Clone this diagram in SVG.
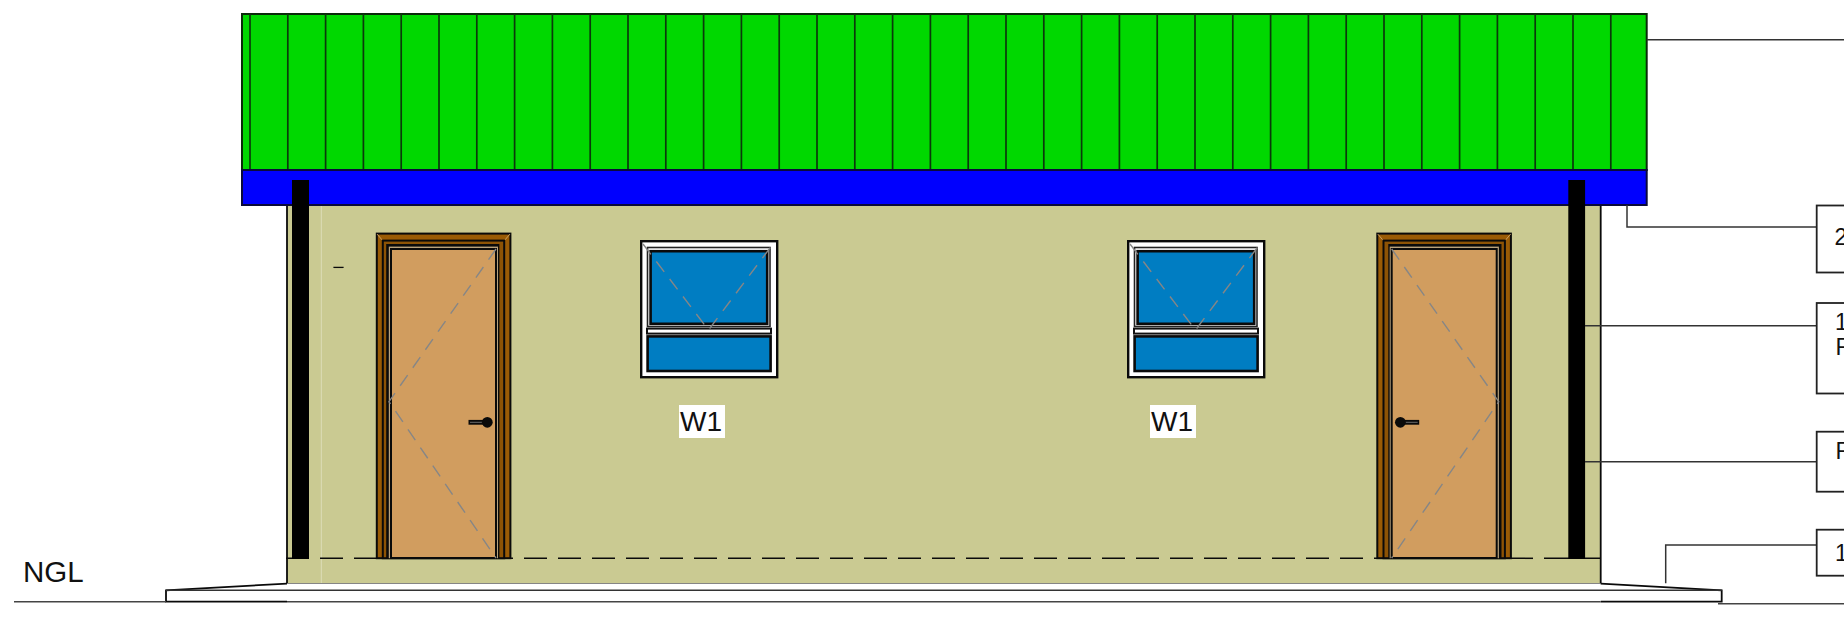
<svg xmlns="http://www.w3.org/2000/svg" width="1844" height="630" viewBox="0 0 1844 630">
<style>
text{font-family:"Liberation Sans",Arial,sans-serif;fill:#111}
.seam{stroke:#0b3a0b;stroke-width:1.7;fill:none}
.k{stroke:#0a0a0a;fill:none}
.lead{stroke:#333;stroke-width:1.5;fill:none}
.box{fill:#fff;stroke:#222;stroke-width:1.8}
.lbl{font-size:23px}
.glass{fill:#007dc2;stroke:#0a0a0a;stroke-width:2.6}
.diag{stroke:#868686;stroke-width:1.4;stroke-dasharray:13 9;fill:none}
.frame{fill:#9a5b05;stroke:#0a0a0a;stroke-width:2}
</style>
<defs>
<g id="door">
<rect class="frame" x="376.8" y="233.6" width="133.6" height="324.6"/>
<path d="M377 234L383 241M510 234L504 241" stroke="#d8b27a" stroke-width="0.8"/>
<rect x="382.8" y="240.6" width="121.4" height="317.6" fill="#8d5305" stroke="#0a0a0a" stroke-width="2"/>
<rect x="386.2" y="244" width="113.2" height="314.2" fill="#0a0a0a"/>
<rect x="388.8" y="246.6" width="109.2" height="311.6" fill="#b9a27c"/>
<rect x="391" y="249" width="105" height="309" fill="#d19d5f" stroke="#0a0a0a" stroke-width="2"/>
<path d="M496 249L389 401.7L496 558" class="diag"/>
<path d="M468.5 422.3H487" stroke="#0a0a0a" stroke-width="4.8"/>
<path d="M470 422.3H485" stroke="#777" stroke-width="0.9"/>
<circle cx="487.3" cy="422.3" r="5.4" fill="#0a0a0a"/>
</g>
<g id="window">
<rect x="641.2" y="241.2" width="136" height="136" fill="#fff" stroke="#0a0a0a" stroke-width="2.4"/>
<rect x="647.5" y="247.5" width="122.5" height="79" fill="#fff" stroke="#222" stroke-width="1.6"/>
<rect class="glass" x="650.6" y="251.2" width="116.6" height="72.6"/>
<rect x="647" y="328.6" width="124" height="5" fill="#fff" stroke="#111" stroke-width="2"/>
<rect class="glass" x="647.6" y="336.4" width="123" height="34.6"/>
<path d="M643 244L708.5 330L773 244" class="diag"/>
</g>
</defs>
<rect width="1844" height="630" fill="#fff"/>

<g id="wall">
<rect x="287" y="205" width="1313.7" height="379" fill="#caca92"/>
<path d="M321.3 205V584" stroke="#dcdcb8" stroke-width="1"/>
<path d="M287 205V584H1600.7V205" class="k" stroke-width="1.8"/>
<path d="M333.4 267.4H343.6" class="k" stroke-width="1.3"/>
</g>

<g id="plinth">
<path d="M166 590.3L287 583.6H1600.7L1721.7 590.3V601.7H166Z" fill="#fff"/>
<path d="M287 583.6L166 590.3V601.7H287" class="k" stroke-width="1.8"/>
<path d="M1600.7 583.6L1721.7 590.3V601.7H1600.7" class="k" stroke-width="1.8"/>
<path d="M166 590.3H1721.7" stroke="#333" stroke-width="1.5"/>
<path d="M14 601.7H166M287 601.7H1600.7" stroke="#444" stroke-width="1.6"/>
<path d="M1718 603.7H1844" stroke="#444" stroke-width="1.6"/>
</g>

<g id="plinth-line">
<path d="M286 558.3H1534" class="k" stroke-width="1.5" stroke-dasharray="23 11"/>
<path d="M1544 558.3H1600" class="k" stroke-width="1.5"/>
</g>

<g id="door-left"><use href="#door"/></g>
<g id="door-right"><use href="#door" transform="matrix(-1 0 0 1 1887.7 0)"/></g>
<g id="window-left"><use href="#window"/></g>
<g id="window-right"><use href="#window" x="487"/></g>

<g id="label-w1-left">
<rect x="679" y="405" width="46" height="33" fill="#fff"/>
<text x="680" y="431" font-size="28">W1</text>
</g>
<g id="label-w1-right">
<rect x="1150" y="405" width="46" height="33" fill="#fff"/>
<text x="1151" y="431" font-size="28">W1</text>
</g>
<g id="label-ngl"><text x="23" y="582" font-size="29.5">NGL</text></g>

<g id="roof">
<rect x="242" y="14" width="1404.7" height="156" fill="#00d800" stroke="#0a2a0a" stroke-width="2"/>
<path class="seam" d="M250 14V170M287.8 14V170M325.6 14V170M363.4 14V170M401.2 14V170M439 14V170M476.8 14V170M514.6 14V170M552.4 14V170M590.2 14V170M628 14V170M665.8 14V170M703.6 14V170M741.4 14V170M779.2 14V170M817 14V170M854.8 14V170M892.6 14V170M930.4 14V170M968.2 14V170M1006 14V170M1043.8 14V170M1081.6 14V170M1119.4 14V170M1157.2 14V170M1195 14V170M1232.8 14V170M1270.6 14V170M1308.4 14V170M1346.2 14V170M1384 14V170M1421.8 14V170M1459.6 14V170M1497.4 14V170M1535.2 14V170M1573 14V170M1610.8 14V170"/>
</g>
<g id="fascia">
<rect x="242" y="170" width="1404.7" height="35" fill="#0000fe" stroke="#0a0a3a" stroke-width="2"/>
</g>
<g id="downpipe-left"><rect x="292" y="180" width="17" height="379" fill="#000"/></g>
<g id="downpipe-right"><rect x="1568.3" y="180" width="16.8" height="379" fill="#000"/></g>

<g id="connectors">
<path class="lead" d="M1646.7 39.8H1844"/>
<path class="lead" d="M1627 205V227H1816.7"/>
<path class="lead" d="M1585 325.7H1816.7"/>
<path class="lead" d="M1585 461.8H1816.7"/>
<path class="lead" d="M1665.7 583.3V545H1816.7"/>
</g>

<g id="note-1">
<rect class="box" x="1816.7" y="205.5" width="40" height="67"/>
<text class="lbl" x="1834.5" y="245">2</text>
</g>
<g id="note-2">
<rect class="box" x="1816.7" y="303" width="40" height="90.5"/>
<text class="lbl" x="1835" y="330">1</text>
<text class="lbl" x="1835.5" y="355">F</text>
</g>
<g id="note-3">
<rect class="box" x="1816.7" y="431.7" width="40" height="60"/>
<text class="lbl" x="1835.5" y="459">F</text>
</g>
<g id="note-4">
<rect class="box" x="1816.7" y="529.7" width="40" height="46"/>
<text class="lbl" x="1835" y="561">1</text>
</g>
</svg>
